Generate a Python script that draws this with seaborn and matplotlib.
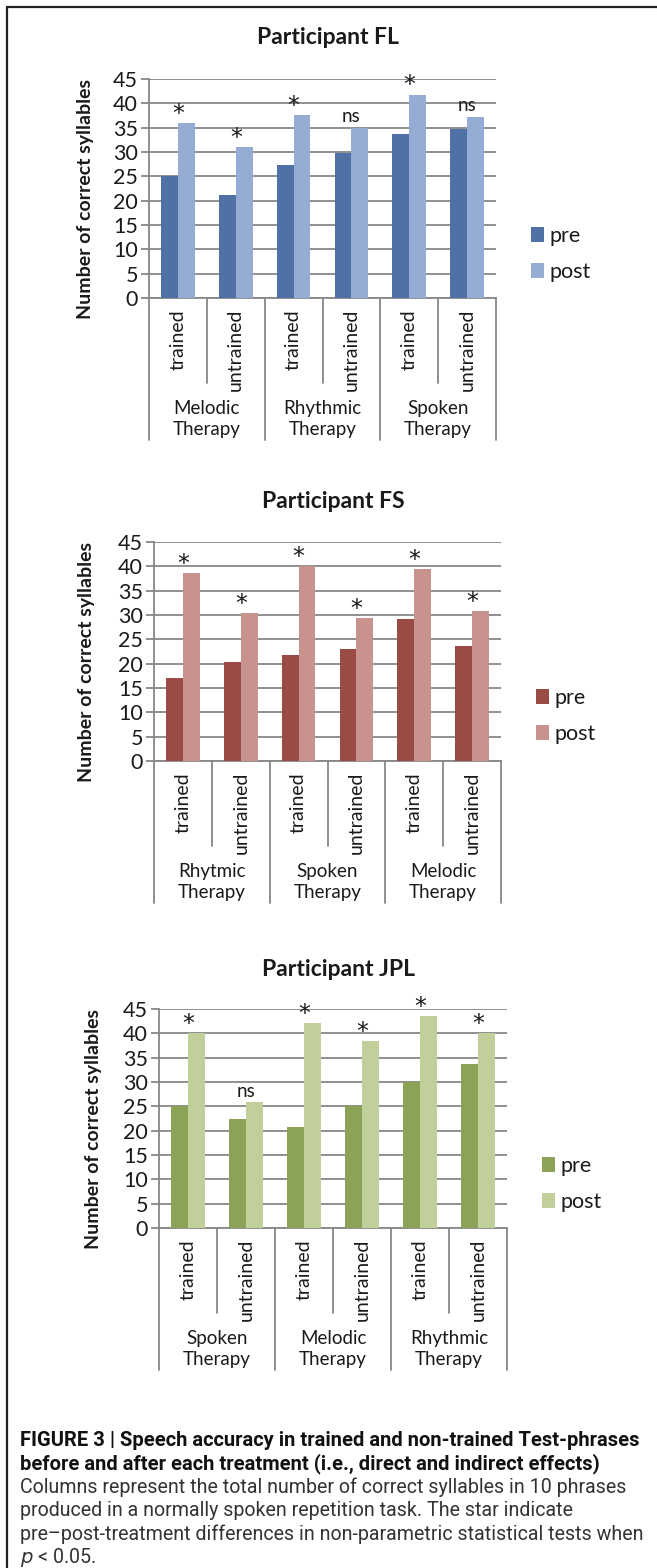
import numpy as np
import pandas as pd
import seaborn as sns
import matplotlib.pyplot as plt
from matplotlib.transforms import blended_transform_factory
from matplotlib.lines import Line2D

# Данные: три участника, по 6 категорий (терапия x тип фраз)
phrase_types = ['trained', 'untrained']
stages = ['pre', 'post']

groups_fl = ['Melodic\nTherapy', 'Rhythmic\nTherapy', 'Spoken\nTherapy']
pre_fl = [25.0, 21.2, 27.3, 29.7, 33.7, 34.7]
post_fl = [35.9, 31.0, 37.5, 35.0, 41.8, 37.2]
sig_fl = ['*', '*', '*', 'ns', '*', 'ns']

groups_fs = ['Rhytmic\nTherapy', 'Spoken\nTherapy', 'Melodic\nTherapy']
pre_fs = [17.1, 20.3, 21.8, 23.0, 29.1, 23.7]
post_fs = [38.7, 30.4, 40.1, 29.4, 39.5, 30.9]
sig_fs = ['*', '*', '*', '*', '*', '*']

groups_jpl = ['Spoken\nTherapy', 'Melodic\nTherapy', 'Rhythmic\nTherapy']
pre_jpl = [25.1, 22.4, 20.8, 25.1, 30.0, 33.7]
post_jpl = [40.0, 25.8, 42.1, 38.5, 43.5, 40.0]
sig_jpl = ['*', 'ns', '*', '*', '*', '*']

yticks = list(range(0, 50, 5))

caption_bold = ['FIGURE 3 | Speech accuracy in trained and non-trained Test-phrases',
                'before and after each treatment (i.e., direct and indirect effects)']
caption_text = ['Columns represent the total number of correct syllables in 10 phrases',
                'produced in a normally spoken repetition task. The star indicate',
                'pre\u2013post-treatment differences in non-parametric statistical tests when']

sns.set_theme(style='white')
plt.rcParams['font.family'] = ['Lato', 'DejaVu Sans']

W, H = 657, 1568
fig = plt.figure(figsize=(W / 100, H / 100), dpi=100)
GRID = '#878787'
INK = '#1a1a1a'


def px_axes(left, right, top, bottom):
    return fig.add_axes([left / W, 1 - bottom / H, (right - left) / W, (bottom - top) / H])


panels = [
    dict(title='Participant FL', groups=groups_fl, pre=pre_fl, post=post_fl, sig=sig_fl,
         colors=['#4F71A5', '#95ACD4'], box=(149, 496, 79, 298), title_x=328, title_y=38,
         ylab_x=94, leg_x=531, leg_y=254),
    dict(title='Participant FS', groups=groups_fs, pre=pre_fs, post=post_fs, sig=sig_fs,
         colors=['#9B4B45', '#C8928F'], box=(154, 501, 542, 761), title_x=333, title_y=501,
         ylab_x=95, leg_x=536, leg_y=716),
    dict(title='Participant JPL', groups=groups_jpl, pre=pre_jpl, post=post_jpl, sig=sig_jpl,
         colors=['#8BA356', '#C1D09A'], box=(159, 507, 1009, 1228), title_x=339, title_y=969,
         ylab_x=102, leg_x=542, leg_y=1184),
]

for p in panels:
    left, right, top, bottom = p['box']
    ax = px_axes(left, right, top, bottom)
    cats = [f'{g}|{t}' for g in p['groups'] for t in phrase_types]
    df = pd.DataFrame({
        'cat': cats * 2,
        'stage': ['pre'] * 6 + ['post'] * 6,
        'value': p['pre'] + p['post'],
    })
    sns.barplot(data=df, x='cat', y='value', hue='stage', order=cats, hue_order=stages,
                palette=p['colors'], width=0.58, saturation=1, linewidth=0, ax=ax, zorder=3)
    ax.set_ylim(0, 45)
    ax.set_xlim(-0.5, 5.5)
    ax.set_yticks(yticks)
    ax.set_yticklabels([str(v) for v in yticks], fontsize=15.5, color=INK)
    ax.set_xticks([])
    ax.set_xlabel('')
    ax.set_ylabel('Number of correct syllables', fontsize=14, fontweight='bold', color=INK)
    ax.yaxis.set_label_coords((p['ylab_x'] - left) / (right - left), 0.45)
    ax.grid(axis='y', color=GRID, linewidth=1.3, zorder=0)
    ax.set_axisbelow(True)
    for s in ['top', 'right']:
        ax.spines[s].set_visible(False)
    for s in ['left', 'bottom']:
        ax.spines[s].set_color(GRID)
        ax.spines[s].set_linewidth(1.3)
    ax.tick_params(axis='y', length=6, width=1.3, color=GRID, left=True, pad=2)

    # значимость над столбцами
    for i, (s, v) in enumerate(zip(p['sig'], p['post'])):
        if s == '*':
            ax.text(i, v - 0.6, s, ha='center', va='bottom', fontsize=17,
                    family='DejaVu Sans', color=INK)
        else:
            ax.text(i, v + 0.6, s, ha='center', va='bottom', fontsize=13.5, color=INK)

    # двухуровневая ось категорий
    trans = blended_transform_factory(ax.transData, ax.transAxes)
    h = bottom - top
    for k in range(7):
        xk = k - 0.5
        depth = 142 / h if k % 2 == 0 else 85 / h
        ax.add_line(Line2D([xk, xk], [0, -depth], transform=trans, color=GRID,
                           linewidth=1.3, clip_on=False))
    for i, c in enumerate(cats):
        ax.text(i, -11 / h, c.split('|')[1], transform=trans, rotation=90,
                ha='center', va='top', fontsize=14, color=INK)
    for j, g in enumerate(p['groups']):
        ax.text(2 * j + 0.5, -121 / h, g, transform=trans, ha='center', va='center',
                fontsize=13.5, color=INK, linespacing=1.25)

    fig.text(p['title_x'] / W, 1 - p['title_y'] / H, p['title'], ha='center', va='center',
             fontsize=16.5, fontweight='bold', color=INK)

    leg = ax.legend(loc='center left', frameon=False, fontsize=15.5,
                    bbox_to_anchor=(p['leg_x'] / W, 1 - p['leg_y'] / H),
                    bbox_transform=fig.transFigure, handlelength=0.6, handleheight=0.7,
                    handletextpad=0.25, labelspacing=0.75, borderpad=0, borderaxespad=0)
    for t in leg.get_texts():
        t.set_color(INK)

# рамка
fig.add_artist(Line2D([7 / W, 7 / W], [0, 1 - 7 / H], color='#222222', linewidth=1.6))
fig.add_artist(Line2D([7 / W, 1], [1 - 7 / H, 1 - 7 / H], color='#222222', linewidth=1.6))

# подпись
cap_font = ['Roboto', 'DejaVu Sans']
y0 = 1440
step = 23.5
for i, line in enumerate(caption_bold):
    fig.text(20 / W, 1 - (y0 + step * i) / H, line, ha='left', va='center',
             fontsize=14.5, fontweight='bold', family=cap_font, color='#111111')
for i, line in enumerate(caption_text):
    fig.text(20 / W, 1 - (y0 + step * (i + 2)) / H, line, ha='left', va='center',
             fontsize=14.1, family=cap_font, color='#333333')
fig.text(20 / W, 1 - (y0 + step * 5) / H, '$p$ < 0.05.', ha='left', va='center',
         fontsize=14.1, family=cap_font, color='#333333')

fig.savefig('out.png', dpi=100)
